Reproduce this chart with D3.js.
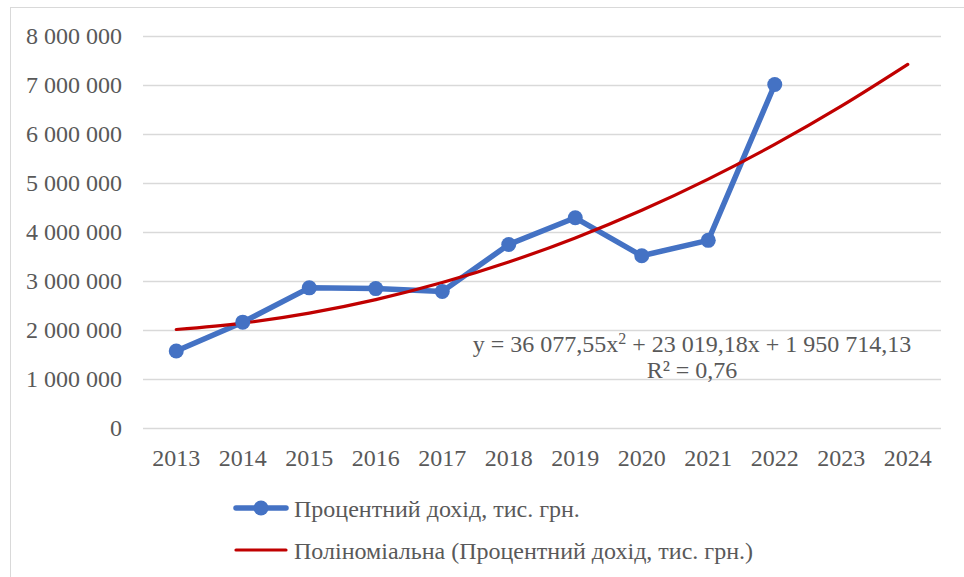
<!DOCTYPE html>
<html>
<head>
<meta charset="utf-8">
<script src="https://cdn.jsdelivr.net/npm/d3@7"></script>
<style>
  body { margin: 0; background: #fff; }
  svg { display: block; font-family: "Liberation Serif", "Times New Roman", serif; }
</style>
</head>
<body>
<svg id="chart" width="964" height="577"></svg>
<script>
// years on the category axis
var years = ["2013", "2014", "2015", "2016", "2017", "2018", "2019", "2020", "2021", "2022", "2023", "2024"];
// interest income, thousand UAH
var incomeYears = ["2013", "2014", "2015", "2016", "2017", "2018", "2019", "2020", "2021", "2022"];
var income = [1570000, 2160000, 2860000, 2845000, 2785000, 3745000, 4290000, 3515000, 3830000, 7010000];
// polynomial trendline values per year
var trend = [2009811, 2141063, 2344470, 2620032, 2967749, 3387621, 3879648, 4443831, 5080168, 5788661, 6569309, 7422111];
var yTicks = [0, 1000000, 2000000, 3000000, 4000000, 5000000, 6000000, 7000000, 8000000];

var svg = d3.select("#chart");
var textColor = "#595959";
var fontSize = "24px";

// outer chart border (cropped on right and bottom)
svg.append("rect")
	.attr("x", 10.5).attr("y", 7.5)
	.attr("width", 1000).attr("height", 1000)
	.attr("fill", "none")
	.attr("stroke", "#d9d9d9");

var plotLeft = 143, plotRight = 941, plotTop = 36, plotBottom = 428;

var x = d3.scalePoint()
	.domain(years)
	.range([plotLeft, plotRight])
	.padding(0.5);
var y = d3.scaleLinear()
	.domain([0, 8000000])
	.range([plotBottom, plotTop]);

var fmt = function(v) { return d3.format(",")(v).replace(/,/g, " "); };

// gridlines
svg.append("g").selectAll("line")
	.data(yTicks)
	.join("line")
	.attr("x1", plotLeft).attr("x2", plotRight)
	.attr("y1", function(d) { return Math.round(y(d)) + 0.5; })
	.attr("y2", function(d) { return Math.round(y(d)) + 0.5; })
	.attr("stroke", "#d9d9d9")
	.attr("stroke-width", 1.3);

// y tick labels
svg.append("g").selectAll("text")
	.data(yTicks)
	.join("text")
	.attr("x", 122)
	.attr("y", function(d) { return y(d) + 8; })
	.attr("text-anchor", "end")
	.attr("fill", textColor)
	.style("font-size", fontSize)
	.text(fmt);

// x tick labels
svg.append("g").selectAll("text")
	.data(years)
	.join("text")
	.attr("x", function(d) { return x(d); })
	.attr("y", 466)
	.attr("text-anchor", "middle")
	.attr("fill", textColor)
	.style("font-size", fontSize)
	.text(function(d) { return d; });

// data series
var incomePts = incomeYears.map(function(yr, i) { return [x(yr), y(income[i])]; });
svg.append("path")
	.attr("d", d3.line()(incomePts))
	.attr("fill", "none")
	.attr("stroke", "#4472C4")
	.attr("stroke-width", 5.5)
	.attr("stroke-linejoin", "round")
	.attr("stroke-linecap", "round");

// trendline
var trendPts = years.map(function(yr, i) { return [x(yr), y(trend[i])]; });
svg.append("path")
	.attr("d", d3.line().curve(d3.curveCatmullRom)(trendPts))
	.attr("fill", "none")
	.attr("stroke", "#C00000")
	.attr("stroke-width", 3.2)
	.attr("stroke-linecap", "round");

// markers
svg.append("g").selectAll("circle")
	.data(incomePts)
	.join("circle")
	.attr("cx", function(d) { return d[0]; })
	.attr("cy", function(d) { return d[1]; })
	.attr("r", 7.5)
	.attr("fill", "#4472C4");

// trendline equation
var eq = svg.append("text")
	.attr("x", 692).attr("y", 352)
	.attr("text-anchor", "middle")
	.attr("fill", textColor)
	.style("font-size", fontSize);
eq.append("tspan").text("y = 36 077,55x");
eq.append("tspan").attr("dy", -8).style("font-size", "16px").text("2");
eq.append("tspan").attr("dy", 8).text(" + 23 019,18x + 1 950 714,13");

svg.append("text")
	.attr("x", 692).attr("y", 378)
	.attr("text-anchor", "middle")
	.attr("fill", textColor)
	.style("font-size", fontSize)
	.text("R² = 0,76");

// legend
var legend = svg.append("g");
legend.append("line")
	.attr("x1", 236).attr("x2", 286).attr("y1", 508).attr("y2", 508)
	.attr("stroke", "#4472C4").attr("stroke-width", 5.5).attr("stroke-linecap", "round");
legend.append("circle")
	.attr("cx", 261).attr("cy", 508).attr("r", 7.5).attr("fill", "#4472C4");
legend.append("text")
	.attr("x", 294).attr("y", 517)
	.attr("fill", textColor).style("font-size", fontSize)
	.text("Процентний дохід, тис. грн.");
legend.append("line")
	.attr("x1", 236).attr("x2", 286).attr("y1", 550).attr("y2", 550)
	.attr("stroke", "#C00000").attr("stroke-width", 3.2).attr("stroke-linecap", "round");
legend.append("text")
	.attr("x", 294).attr("y", 559)
	.attr("fill", textColor).style("font-size", fontSize)
	.text("Поліноміальна (Процентний дохід, тис. грн.)");
</script>
</body>
</html>
